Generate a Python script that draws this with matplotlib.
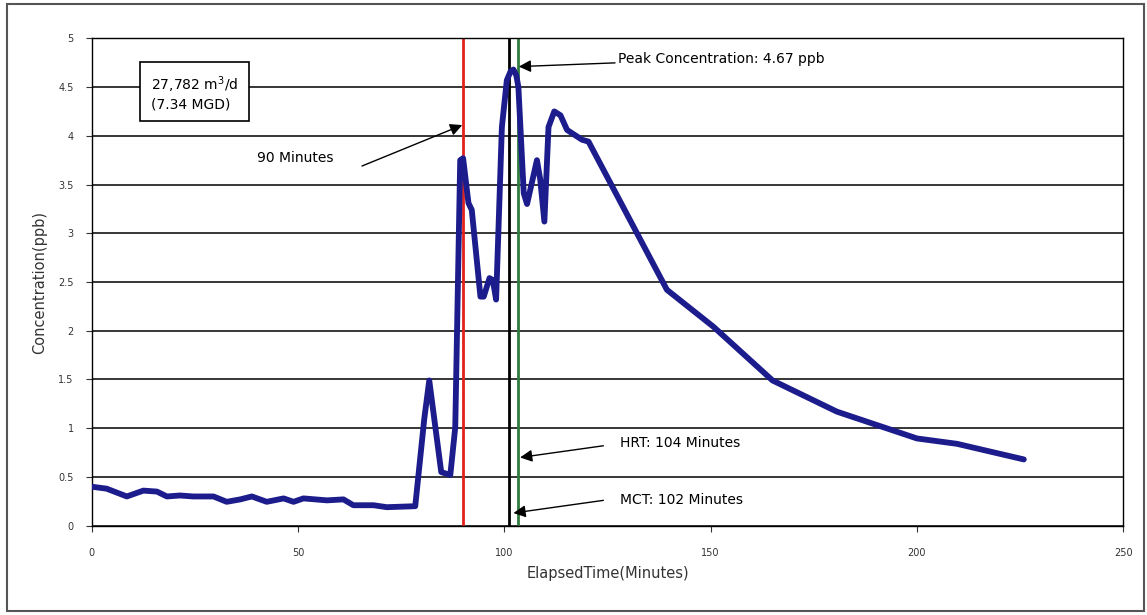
import numpy as np
import matplotlib.pyplot as plt
from matplotlib.patches import Rectangle

plt.rcParams['font.family'] = ['DejaVu Sans']

# tiempo (min) y concentracion (ppb)
tiempo = [0, 3.6, 8.5, 12.5, 15.8, 18.2, 21.4, 24.6, 29.5, 32.7, 36, 38.8,
          42.4, 46.5, 48.9, 51.3, 57, 61, 63.4, 68.3, 71.5, 78.4,
          80.6, 81.8, 83.0, 84.7, 86.9, 88.1, 89.3, 90.0, 91.3, 92.1, 94.2, 95.0,
          96.4, 97.2, 98.0, 99.4, 100.6, 101.5, 102.2, 102.9, 103.4, 104.7, 105.5,
          107.9, 108.7, 109.7, 110.7, 112.1, 113.6, 115.2, 118.8, 120.4,
          139.4, 150.7, 165, 180.6, 200, 209.7, 225.9]
concentracion = [0.40, 0.38, 0.30, 0.36, 0.35, 0.30, 0.31, 0.30, 0.30, 0.245,
                 0.27, 0.30, 0.245, 0.28, 0.245, 0.28, 0.26, 0.27, 0.21, 0.21,
                 0.19, 0.20,
                 1.10, 1.49, 1.10, 0.55, 0.52, 1.01, 3.75, 3.77, 3.31, 3.24, 2.35, 2.35,
                 2.54, 2.52, 2.32, 4.09, 4.57, 4.66, 4.68, 4.62, 4.50, 3.41, 3.30,
                 3.75, 3.55, 3.12, 4.09, 4.25, 4.21, 4.06, 3.96, 3.94,
                 2.42, 2.04, 1.49, 1.17, 0.895, 0.84, 0.68]

t_90 = 90
t_mct = 101.2
t_hrt = 103.2

fig = plt.figure(figsize=(11.47, 6.15), dpi=100)
ax = fig.add_axes([0.080, 0.1452, 0.8993, 0.7925])

ax.set_xlim(0, 250)
ax.set_ylim(0, 5)
ax.set_xticks([0, 50, 100, 150, 200, 250])
ax.set_yticks([0, 0.5, 1, 1.5, 2, 2.5, 3, 3.5, 4, 4.5, 5])
ax.set_yticklabels(['0', '0.5', '1', '1.5', '2', '2.5', '3', '3.5', '4', '4.5', '5'])
ax.tick_params(labelsize=7, length=4, width=0.8, colors='#333333', pad=12)
ax.tick_params(axis='y', pad=9)
ax.yaxis.grid(True, color='black', lw=1.1)
ax.set_axisbelow(True)
for s in ax.spines.values():
    s.set_color('black')
    s.set_linewidth(1.0)

ax.axvline(t_90, color='#e3211c', lw=2)
ax.axvline(t_mct, color='black', lw=2)
ax.axvline(t_hrt, color='#2f7a3c', lw=2)

ax.plot(tiempo, concentracion, color='#1c1c8c', lw=4.2,
        solid_joinstyle='round', solid_capstyle='round', zorder=3)

ax.set_xlabel('ElapsedTime(Minutes)', fontsize=10.5, color='#333333', labelpad=6)
ax.set_ylabel('Concentration(ppb)', fontsize=10.5, color='#333333', labelpad=8)

flecha = dict(arrowstyle='-|>', color='black', lw=1, mutation_scale=18,
              shrinkA=0, shrinkB=0)
ax.annotate('Peak Concentration: 4.67 ppb', xy=(103.5, 4.71), xytext=(127.5, 4.79),
            fontsize=10, va='center', ha='left', arrowprops=flecha)
ax.text(40, 3.77, '90 Minutes', fontsize=10, va='center', ha='left')
ax.annotate('', xy=(t_90 - 0.2, 4.11), xytext=(65.5, 3.69), arrowprops=flecha)
ax.text(128, 0.85, 'HRT: 104 Minutes', fontsize=10, va='center', ha='left')
ax.annotate('', xy=(103.8, 0.70), xytext=(124, 0.82), arrowprops=flecha)
ax.text(128, 0.26, 'MCT: 102 Minutes', fontsize=10, va='center', ha='left')
ax.annotate('', xy=(102.2, 0.13), xytext=(124, 0.26), arrowprops=flecha)

ax.text(14.3, 4.44, '27,782 m$^3$/d\n(7.34 MGD)', fontsize=10, va='center', ha='left',
        linespacing=1.15,
        bbox=dict(boxstyle='square,pad=0.75', fc='white', ec='black', lw=1.2))

fig.patches.append(Rectangle((7 / 1147, 4 / 615), 1137 / 1147, 607 / 615,
                             transform=fig.transFigure, fill=False,
                             ec='#555555', lw=1.5))

fig.savefig('out.png', dpi=100)
